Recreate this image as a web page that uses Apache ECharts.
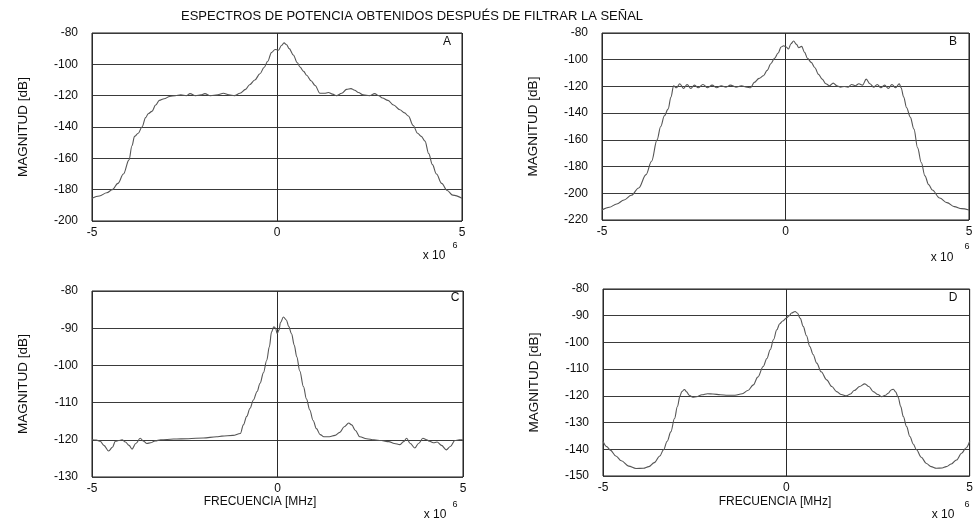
<!DOCTYPE html>
<html>
<head>
<meta charset="utf-8">
<title>Espectros de potencia</title>
<script src="https://cdn.jsdelivr.net/npm/echarts@6/dist/echarts.min.js"></script>
<style>
  html, body { margin: 0; padding: 0; background: #fff; }
  #chart { width: 976px; height: 520px; }
</style>
</head>
<body>
<div id="chart"></div>
<script>
// Frequency in units of 10^6 Hz, magnitude in dB
const freqA = [-5.0,-4.8,-4.6,-4.45,-4.3,-4.15,-4.0,-3.92,-3.85,-3.75,-3.65,-3.55,-3.48,-3.38,-3.28,-3.18,-3.05,-2.9,-2.75,-2.6,-2.45,-2.35,-2.2,-2.05,-1.95,-1.8,-1.6,-1.45,-1.3,-1.15,-1.0,-0.85,-0.74,-0.6,-0.46,-0.35,-0.25,-0.15,-0.05,0.04,0.12,0.19,0.26,0.33,0.44,0.55,0.62,0.72,0.8,0.92,1.03,1.16,1.28,1.39,1.5,1.61,1.75,1.88,2.0,2.1,2.2,2.33,2.5,2.64,2.75,2.85,3.0,3.15,3.32,3.45,3.55,3.68,3.8,3.9,4.0,4.1,4.2,4.31,4.45,4.6,4.75,5.0];
const magA  = [-185.5,-184,-182,-180,-176,-170,-161,-152,-146,-144,-140,-134,-131.5,-130,-126,-123,-122,-120.5,-120,-119.5,-120,-118.7,-120,-119.5,-118.7,-120,-119.5,-118.5,-119.5,-120,-118.5,-116,-113,-110,-106,-102,-98,-92.5,-90.5,-91,-88,-86.3,-87.5,-90,-94,-99,-101.7,-104.5,-107,-110.5,-113.5,-118.5,-118.5,-118,-119,-120,-118.5,-116,-115.5,-116.5,-118,-119.5,-120,-118.7,-120,-121.5,-123,-126,-129,-131,-133,-139,-144,-146,-149,-157,-164,-170,-176,-180.5,-183.5,-185.5];

const freqB = [-5.0,-4.8,-4.6,-4.4,-4.2,-4.0,-3.8,-3.65,-3.5,-3.4,-3.3,-3.2,-3.12,-3.05,-2.97,-2.88,-2.78,-2.68,-2.58,-2.48,-2.38,-2.25,-2.12,-2.0,-1.88,-1.75,-1.62,-1.5,-1.35,-1.2,-1.05,-0.95,-0.85,-0.72,-0.6,-0.5,-0.4,-0.3,-0.2,-0.12,-0.05,0.02,0.08,0.15,0.22,0.3,0.36,0.44,0.52,0.6,0.7,0.8,0.9,1.0,1.1,1.2,1.3,1.4,1.5,1.6,1.7,1.8,1.9,2.0,2.1,2.2,2.3,2.4,2.5,2.6,2.7,2.8,2.9,3.0,3.1,3.15,3.22,3.3,3.4,3.5,3.6,3.7,3.8,3.9,4.0,4.2,4.4,4.6,4.8,5.0];
const magB  = [-212.5,-210.5,-208,-205,-201.5,-196,-186,-176,-160,-150,-142,-137,-128,-119.5,-121,-118,-121.5,-118.5,-121.5,-119,-121,-118.5,-121,-119,-121,-119.5,-120.5,-119,-120.5,-119.5,-120.5,-121,-117,-114,-112,-108,-103,-99,-95,-90.5,-89.5,-90.5,-92,-88,-86,-88.5,-91,-90,-94.5,-99,-102,-106,-111,-114.5,-118,-119.5,-117.5,-119.5,-120.5,-120,-120.5,-118.5,-119.5,-118,-119,-114.5,-118,-120.5,-118.5,-121,-119,-121.5,-118.5,-121,-118,-121,-128,-136,-143,-152,-166,-177,-187,-193.5,-197.5,-203.5,-207,-210,-211.5,-212.5];

const freqC = [-5.0,-4.88,-4.78,-4.68,-4.55,-4.45,-4.37,-4.28,-4.19,-4.1,-4.0,-3.92,-3.82,-3.7,-3.61,-3.52,-3.42,-3.3,-3.15,-2.8,-2.4,-2.0,-1.64,-1.5,-1.2,-1.0,-0.92,-0.83,-0.74,-0.65,-0.55,-0.47,-0.38,-0.29,-0.22,-0.16,-0.1,-0.05,-0.01,0.04,0.08,0.16,0.24,0.3,0.38,0.45,0.52,0.6,0.7,0.78,0.87,0.96,1.05,1.15,1.25,1.4,1.55,1.68,1.8,1.92,2.0,2.1,2.22,2.4,2.6,2.8,3.0,3.15,3.3,3.4,3.48,3.58,3.7,3.8,3.92,4.02,4.1,4.2,4.3,4.42,4.55,4.66,4.78,4.9,5.0];
const magC  = [-120,-120.1,-120.4,-121.5,-123,-122,-120.4,-120.2,-120,-120.6,-121.5,-122.5,-121,-119.6,-120.4,-121,-120.8,-120.3,-120,-119.8,-119.7,-119.5,-119.2,-119,-118.8,-118.3,-116,-113.7,-111.5,-109.3,-107,-104.8,-102,-98.6,-95,-91,-89.6,-90,-91.5,-90.5,-88.5,-87,-87.8,-89.5,-91.5,-94.5,-97.7,-101.5,-105.7,-109,-112,-114.8,-117,-118.6,-119.2,-119.2,-118.8,-118,-116.5,-115.5,-116,-117.5,-119.2,-119.7,-120,-120.2,-120.5,-121,-121.3,-120.5,-119.6,-121,-122.2,-121,-119.6,-120,-120.4,-120.8,-120.6,-121.5,-122.7,-121.8,-120.2,-120,-120];

const freqD = [-5.0,-4.9,-4.8,-4.65,-4.5,-4.3,-4.1,-3.9,-3.75,-3.6,-3.45,-3.35,-3.25,-3.15,-3.05,-2.97,-2.9,-2.85,-2.78,-2.72,-2.65,-2.55,-2.45,-2.3,-2.15,-2.0,-1.8,-1.6,-1.4,-1.2,-1.05,-0.9,-0.78,-0.63,-0.53,-0.44,-0.35,-0.26,-0.18,-0.1,0.0,0.08,0.14,0.24,0.3,0.38,0.46,0.55,0.64,0.73,0.83,0.95,1.1,1.24,1.37,1.5,1.64,1.75,1.85,2.0,2.14,2.25,2.37,2.5,2.6,2.7,2.78,2.86,2.92,2.98,3.05,3.12,3.19,3.28,3.37,3.46,3.55,3.68,3.82,3.95,4.09,4.25,4.36,4.5,4.64,4.78,4.9,5.0];
const magD  = [-137,-139,-140.3,-142.5,-144.3,-146.3,-147.2,-147.1,-146.5,-145,-142.5,-140.2,-137,-133.5,-128.5,-124,-120,-118.4,-117.6,-118.5,-119.8,-120.5,-120.3,-119.6,-119.2,-119.3,-119.6,-119.8,-119.8,-119.2,-118,-115.9,-113,-109,-106,-102.75,-99,-95.25,-93,-92,-90.9,-90,-89,-88.4,-89,-91,-94,-97.5,-101.5,-104.5,-107.75,-111,-114,-116.5,-118.4,-119.5,-120,-119.3,-118,-116.5,-115.5,-116.5,-118.4,-119.5,-120.3,-119.8,-119,-117.8,-117.5,-118.5,-120.5,-124,-127.75,-131.5,-135.2,-138,-140.2,-143,-145.3,-146.5,-147.1,-147,-146.5,-145.5,-144,-141.5,-139.5,-137];

// Axis ranges and tick steps for panels A-D
const yMin  = [-200, -220, -130, -150];
const yMax  = [-80, -80, -80, -80];
const yStep = [20, 20, 10, 10];
const xTicks = [-5, 0, 5];
const panelLetters = ['A', 'B', 'C', 'D'];

const titleText = 'ESPECTROS DE POTENCIA OBTENIDOS DESPUÉS DE FILTRAR LA SEÑAL';
const yName = 'MAGNITUD [dB]';
const xName = 'FRECUENCIA [MHz]';

const zip = (xs, ys) => xs.map((x, i) => [x, ys[i]]);
const seriesData = [zip(freqA, magA), zip(freqB, magB), zip(freqC, magC), zip(freqD, magD)];

const grids = [
  { left: 92,  top: 33,  width: 370, height: 188 },
  { left: 602, top: 33,  width: 367, height: 187 },
  { left: 92,  top: 291, width: 371, height: 186 },
  { left: 603, top: 289, width: 367, height: 187 }
];

const FONT = '"Liberation Sans", Arial, sans-serif';
const INK = '#0e0e0e';

const chart = echarts.init(document.getElementById('chart'), null, { renderer: 'canvas' });

function label(x, y, text, size) {
  return { type: 'text', x: x, y: y, style: { text: text, fill: INK, font: size + 'px ' + FONT, textAlign: 'center', textVerticalAlign: 'middle' } };
}

const option = {
  backgroundColor: '#ffffff',
  animation: false,
  grid: grids.map(g => Object.assign({ show: true, borderColor: '#1a1a1a', borderWidth: 1, backgroundColor: 'transparent' }, g)),
  xAxis: grids.map((g, i) => ({
    type: 'value', gridIndex: i, min: xTicks[0], max: xTicks[xTicks.length - 1], interval: 5,
    axisLine: { show: false }, axisTick: { show: false },
    axisLabel: { color: INK, fontSize: 12, fontFamily: FONT, margin: 6 },
    splitLine: { show: true, lineStyle: { color: '#2a2a2a', width: 1 } }
  })),
  yAxis: grids.map((g, i) => ({
    type: 'value', gridIndex: i, min: yMin[i], max: yMax[i], interval: yStep[i],
    axisLine: { show: false }, axisTick: { show: false },
    axisLabel: { color: INK, fontSize: 12, fontFamily: FONT, margin: 14 },
    splitLine: { show: true, lineStyle: { color: '#3a3a3a', width: 1 } },
    name: yName, nameLocation: 'middle', nameRotate: 90, nameGap: 62,
    nameTextStyle: { color: INK, fontSize: 13.5, fontFamily: FONT }
  })),
  series: seriesData.map((d, i) => ({
    type: 'line', xAxisIndex: i, yAxisIndex: i, data: d,
    showSymbol: false, symbol: 'none', smooth: 0.35, smoothMonotone: 'x',
    lineStyle: { color: '#555555', width: 1.1 }, z: 3
  })),
  graphic: [
    label(412, 16, titleText, 13),
    // panel letters
    label(447, 42, panelLetters[0], 12),
    label(953, 42, panelLetters[1], 12),
    label(455, 298, panelLetters[2], 12),
    label(953, 298, panelLetters[3], 12),
    // x-axis multipliers (x 10^6)
    label(434, 256, 'x 10', 12), label(455, 246, '6', 9),
    label(942, 258, 'x 10', 12), label(967, 247, '6', 9),
    label(435, 515, 'x 10', 12), label(455, 505, '6', 9),
    label(943, 515, 'x 10', 12), label(967, 505, '6', 9),
    // x-axis names for the lower panels
    label(260, 502, xName, 12),
    label(775, 502, xName, 12)
  ]
};

chart.setOption(option);
</script>
</body>
</html>
